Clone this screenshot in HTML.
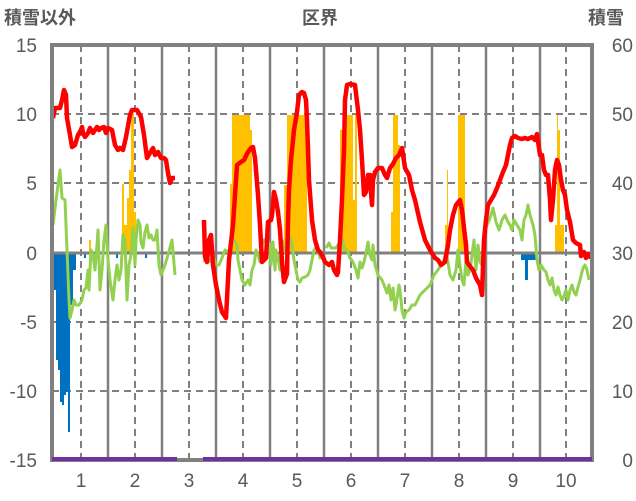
<!DOCTYPE html>
<html><head><meta charset="utf-8"><style>
html,body{margin:0;padding:0;background:#fff}
svg{display:block;font-family:"Liberation Sans","Noto Sans CJK JP",sans-serif}
</style></head><body>
<svg width="636" height="501" viewBox="0 0 636 501" xmlns="http://www.w3.org/2000/svg">
<rect width="636" height="501" fill="#fff"/>
<g stroke="#808080" stroke-width="2" stroke-dasharray="7,5" fill="none">
<line x1="52" y1="114" x2="592" y2="114"/><line x1="52" y1="183" x2="592" y2="183"/>
<line x1="52" y1="322" x2="592" y2="322"/><line x1="52" y1="391" x2="592" y2="391"/>
<line x1="81" y1="45" x2="81" y2="460"/><line x1="135" y1="45" x2="135" y2="460"/>
<line x1="189" y1="45" x2="189" y2="460"/><line x1="243" y1="45" x2="243" y2="460"/>
<line x1="297" y1="45" x2="297" y2="460"/><line x1="351" y1="45" x2="351" y2="460"/>
<line x1="405" y1="45" x2="405" y2="460"/><line x1="459" y1="45" x2="459" y2="460"/>
<line x1="513" y1="45" x2="513" y2="460"/><line x1="566" y1="45" x2="566" y2="460"/>
</g>
<g stroke="#808080" stroke-width="2.5">
<line x1="108" y1="45" x2="108" y2="460"/><line x1="162" y1="45" x2="162" y2="460"/>
<line x1="216" y1="45" x2="216" y2="460"/><line x1="270" y1="45" x2="270" y2="460"/>
<line x1="324" y1="45" x2="324" y2="460"/><line x1="378" y1="45" x2="378" y2="460"/>
<line x1="432" y1="45" x2="432" y2="460"/><line x1="486" y1="45" x2="486" y2="460"/>
<line x1="540" y1="45" x2="540" y2="460"/>
</g>
<g fill="#FFC000">
<rect x="89" y="240" width="2" height="13"/>
<rect x="122" y="184" width="2" height="69"/><rect x="124" y="225" width="3" height="28"/>
<rect x="127" y="198" width="2" height="55"/><rect x="129" y="170" width="2" height="83"/>
<rect x="131" y="114" width="3" height="139"/><rect x="134" y="212" width="2" height="41"/>
<rect x="230" y="184" width="2" height="69"/><rect x="232" y="115" width="18" height="138"/><rect x="250" y="130" width="2" height="123"/>
<rect x="284" y="185" width="3" height="68"/><rect x="287" y="115" width="20" height="138"/>
<rect x="340" y="130" width="3" height="123"/><rect x="343" y="115" width="10" height="138"/><rect x="355" y="115" width="2" height="138"/><rect x="353" y="200" width="2" height="53"/>
<rect x="391" y="212" width="2" height="41"/><rect x="393" y="115" width="5" height="138"/><rect x="398" y="145" width="2" height="108"/>
<rect x="445" y="225" width="2" height="28"/><rect x="447" y="170" width="1" height="83"/>
<rect x="458" y="115" width="7" height="138"/>
<rect x="555" y="225" width="9" height="28"/><rect x="557" y="115" width="1" height="138"/><rect x="558" y="130" width="2" height="123"/>
</g>
<g fill="#0070C0">
<rect x="53" y="253" width="3" height="37"/><rect x="56" y="253" width="2" height="107"/>
<rect x="58" y="253" width="2" height="117"/><rect x="60" y="253" width="2" height="149"/>
<rect x="62" y="253" width="2" height="152"/><rect x="64" y="253" width="2" height="142"/>
<rect x="66" y="253" width="2" height="139"/><rect x="68" y="253" width="2" height="179"/>
<rect x="70" y="253" width="3" height="52"/><rect x="73" y="253" width="3" height="17"/>
<rect x="84" y="253" width="2" height="5"/><rect x="116" y="253" width="2" height="5"/><rect x="145" y="253" width="2" height="5"/>
<rect x="521" y="253" width="17" height="7"/><rect x="525" y="253" width="3" height="27"/>
</g>
<line x1="52" y1="253" x2="592" y2="253" stroke="#808080" stroke-width="3"/>
<g fill="none" stroke="#92D050" stroke-width="3" stroke-linejoin="round">
<polyline points="53,225 56,200 58,185 60,170 62,198 65,200 67,250 69,300 70,318 72,310 74,300 76,305 79,305 82,300 84,290 86,288 88,270 89,290 91,250 93,255 95,270 97,245 98,230 100,290 102,270 104,240 106,225 108,260 110,280 113,300 115,280 117,265 119,280 121,270 123,235 125,240 127,300 129,265 131,255 133,228 135,265 136,240 138,220 140,225 141,242 143,248 145,232 147,225 149,238 151,235 153,240 155,240 157,230 159,265 161,275 163,270 165,265 168,255 172,240 175,275"/>
<polyline points="204,262 207,255 209,260 211,262 213,255 216,265 219,265 222,258 225,250 228,252 230,250 232,240 234,240 237,245 238,260 240,270 242,280 245,285 248,280 250,285 252,270 254,265 256,250 258,255 260,262 262,245 264,240 267,240 270,245 271,265 273,242 275,270 276,250 278,258 280,270 282,240 284,248 286,253 288,250 290,237 292,245 294,260 296,270 298,280 300,282 302,278 305,277 308,275 310,270 312,260 314,250 316,247 318,250 320,258 323,258"/>
<polyline points="326,248 329,243 331,248 336,248 340,242 342,238 344,248 348,252 350,258 353,262 356,270 358,278 360,262 362,268 364,262 366,253 368,242 370,255 372,260 373,245 375,265 378,275 382,280 384,285 387,293 389,285 391,300 393,288 395,310 396,305 399,285 400,290 402,310 404,318 406,312 409,310 412,305 415,305 420,295 425,290 430,285 434,275 438,270 441,265 444,260 446,250 450,275 453,280 456,270 458,250 460,265 462,280 464,285 466,260 468,275 470,270 472,255 474,240 476,270 478,245 480,262 482,265 484,235 487,225 490,218 493,208 496,222 499,230 502,220 505,215 508,222 510,225 512,230 514,220 517,225 520,230 522,240 524,220 526,215 528,205 530,215 533,225 535,235 537,260 539,270 541,265 544,270 546,272 548,280 550,285 552,278 554,290 556,295 558,287 560,295 562,300 564,296 566,290 568,300 570,290 572,285 574,292 576,295 578,287 580,280 583,268 585,265 587,270 589,280"/>
</g>
<g fill="none" stroke="#FF0000" stroke-width="4.5" stroke-linejoin="round">
<polyline points="53,118 55,108 60,108 62,100 64,90 66,95 67,118 70,135 72,147 75,145 78,135 81,130 82,127 83,133 85,137 88,133 90,128 93,133 95,130 97,127 99,130 101,128 104,127 106,133 108,128 112,130 115,145 118,150 120,148 123,150 126,137 130,115 132,110 137,110 141,117 144,135 147,158 150,153 153,148 155,155 158,152 161,158 164,158 166,160 168,173 170,183 172,178 175,178"/>
<polyline points="204,220 205,257 207,262 209,240 211,235 213,265 216,285 219,300 222,312 226,318 229,260 233,225 237,165 241,162 244,160 248,152 251,148 253,147 255,158 258,195 260,225 262,262 266,258 268,222 271,220 272,215 274,192 276,200 278,212 280,230 282,262 284,282 287,274 288,220 289,190 291,160 294,130 297,112 299,95 302,92 304,93 306,100 307,120 309,180 312,220 315,240 318,250 320,252 323,257 325,262 329,265 332,262 334,270 337,275 338,272 340,240 342,200 344,150 345,100 347,85 350,84 355,85 358,110 360,130 362,160 364,195 366,192 368,175 370,175 371,192 372,205 373,180 375,172 378,168 382,168 385,175 387,178 390,168 393,164 396,158 399,155 402,148 405,168 409,175 412,190 415,200 420,222 425,240 430,250 435,258 438,260 441,265 445,262 448,245 450,230 453,215 456,205 460,200 462,210 464,228 466,245 467,262 469,265 473,270 476,278 480,285 482,295 484,240 486,220 488,205 491,200 494,195 497,188 500,180 503,172 506,165 508,155 510,145 512,138 515,136 518,138 522,139 525,138 528,139 532,137 535,140 537,134 539,148 540,155 542,155 544,170 546,175 548,175 550,200 551,220 553,200 555,170 557,160 559,165 561,180 563,190 565,195 567,210 570,222 573,240 576,243 580,245 581,256 584,252 586,258 588,254 591,258"/>
</g>
<rect x="52" y="45" width="540" height="415" fill="none" stroke="#808080" stroke-width="4"/>
<line x1="52" y1="459" x2="177" y2="459" stroke="#7030A0" stroke-width="4"/>
<line x1="203" y1="459" x2="592" y2="459" stroke="#7030A0" stroke-width="4"/>
<g fill="#595959" font-size="19">
<text x="4" y="24" font-size="18" font-weight="bold">積雪以外</text>
<text x="320" y="24" font-size="18" font-weight="bold" text-anchor="middle">区界</text>
<text x="588" y="24" font-size="18" font-weight="bold">積雪</text>
<g text-anchor="end">
<text x="37" y="52">15</text><text x="37" y="121">10</text><text x="37" y="190">5</text>
<text x="37" y="260">0</text><text x="37" y="329">-5</text><text x="37" y="398">-10</text><text x="37" y="467">-15</text>
</g>
<g text-anchor="end">
<text x="633" y="52">60</text><text x="633" y="121">50</text><text x="633" y="190">40</text>
<text x="633" y="260">30</text><text x="633" y="329">20</text><text x="633" y="398">10</text><text x="633" y="467">0</text>
</g>
<g text-anchor="middle">
<text x="81" y="487">1</text><text x="135" y="487">2</text><text x="189" y="487">3</text>
<text x="243" y="487">4</text><text x="297" y="487">5</text><text x="351" y="487">6</text>
<text x="405" y="487">7</text><text x="459" y="487">8</text><text x="513" y="487">9</text><text x="566" y="487">10</text>
</g>
</g>
</svg>
</body></html>
